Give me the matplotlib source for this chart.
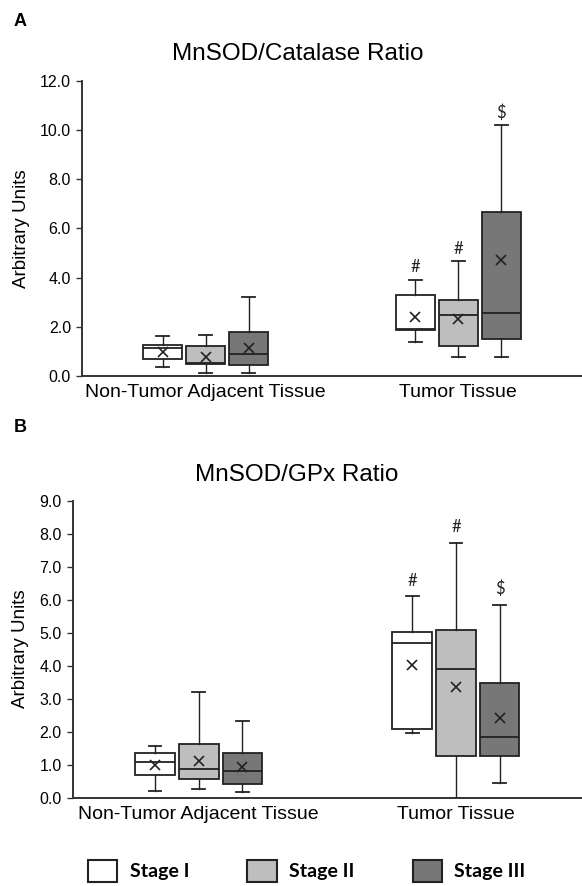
import matplotlib
matplotlib.use("Agg")
import matplotlib.pyplot as plt
from matplotlib.patches import Patch

plt.rcParams['font.family'] = ['Liberation Sans', 'DejaVu Sans']

groups = ['Non-Tumor Adjacent Tissue', 'Tumor Tissue']
stages = ['Stage I', 'Stage II', 'Stage III']
stage_colors = ['#ffffff', '#bebebe', '#777777']

# panel A - MnSOD/Catalase, rows = group, cols = stage
cat_whislo = [[0.37, 0.12, 0.12], [1.38, 0.78, 0.78]]
cat_q1 = [[0.68, 0.49, 0.45], [1.87, 1.22, 1.50]]
cat_med = [[1.13, 0.53, 0.91], [1.92, 2.48, 2.55]]
cat_q3 = [[1.26, 1.23, 1.80], [3.29, 3.08, 6.65]]
cat_whishi = [[1.63, 1.65, 3.22], [3.92, 4.66, 10.2]]
cat_mean = [[0.98, 0.76, 1.15], [2.39, 2.32, 4.70]]
cat_marks = [['', '', ''], ['#', '#', '$']]
cat_mark_y = [[0, 0, 0], [4.44, 5.16, 10.70]]

# panel B - MnSOD/GPx
gpx_whislo = [[0.20, 0.25, 0.17], [1.96, 0.0, 0.44]]
gpx_q1 = [[0.69, 0.56, 0.40], [2.07, 1.27, 1.25]]
gpx_med = [[1.07, 0.87, 0.82], [4.70, 3.91, 1.84]]
gpx_q3 = [[1.35, 1.63, 1.36], [5.01, 5.08, 3.47]]
gpx_whishi = [[1.58, 3.19, 2.32], [6.11, 7.73, 5.84]]
gpx_mean = [[1.00, 1.12, 0.92], [4.02, 3.35, 2.41]]
gpx_marks = [['', '', ''], ['#', '#', '$']]
gpx_mark_y = [[0, 0, 0], [6.57, 8.19, 6.32]]

offsets = [-0.17, 0.0, 0.17]
edge = '#222222'


def draw_panel(ax, whislo, q1, med, q3, whishi, mean, marks, mark_y, ymax, ystep):
    for gi in range(len(groups)):
        for si in range(len(stages)):
            st = dict(whislo=whislo[gi][si], q1=q1[gi][si], med=med[gi][si],
                      q3=q3[gi][si], whishi=whishi[gi][si], mean=mean[gi][si],
                      fliers=[])
            pos = gi + offsets[si]
            ax.bxp([st], positions=[pos], widths=0.154, capwidths=0.05,
                   patch_artist=True, showmeans=True, showfliers=False,
                   boxprops=dict(facecolor=stage_colors[si], edgecolor=edge, linewidth=1.3),
                   medianprops=dict(color=edge, linewidth=1.3),
                   whiskerprops=dict(color=edge, linewidth=1.0),
                   capprops=dict(color=edge, linewidth=1.3),
                   meanprops=dict(marker='x', markeredgecolor=edge, markersize=7,
                                  markeredgewidth=1.2))
            if marks[gi][si]:
                ax.text(pos, mark_y[gi][si], marks[gi][si], ha='center', va='center',
                        fontsize=12, color=edge, family=['Lato', 'DejaVu Sans'])
    ax.set_xlim(-0.49, 1.49)
    ax.set_ylim(0, ymax)
    ticks = [i * ystep for i in range(int(round(ymax / ystep)) + 1)]
    ax.set_yticks(ticks)
    ax.set_yticklabels(['%.1f' % t for t in ticks], fontsize=11.5)
    ax.set_xticks([0, 1])
    ax.set_xticklabels(groups, fontsize=14)
    ax.tick_params(axis='x', length=0, pad=6)
    ax.tick_params(axis='y', length=4, width=1.0, color='#333333', pad=4)
    for s in ['top', 'right']:
        ax.spines[s].set_visible(False)
    for s in ['left', 'bottom']:
        ax.spines[s].set_color('#333333')
        ax.spines[s].set_linewidth(1.4)
    ax.set_ylabel('Arbitrary Units', fontsize=13.5, labelpad=7)


fig = plt.figure(figsize=(5.82, 8.86), dpi=100)

axA = fig.add_axes([0.1409, 0.5756, 0.8591, 0.3333])
draw_panel(axA, cat_whislo, cat_q1, cat_med, cat_q3, cat_whishi, cat_mean,
           cat_marks, cat_mark_y, 12.0, 2.0)

axB = fig.add_axes([0.1249, 0.0997, 0.8751, 0.3352])
draw_panel(axB, gpx_whislo, gpx_q1, gpx_med, gpx_q3, gpx_whishi, gpx_mean,
           gpx_marks, gpx_mark_y, 9.0, 1.0)

fig.text(298 / 582, 1 - 60 / 886, 'MnSOD/Catalase Ratio', ha='center', va='baseline', fontsize=17.5)
fig.text(297 / 582, 1 - 481.5 / 886, 'MnSOD/GPx Ratio', ha='center', va='baseline', fontsize=17.5)
fig.text(20.5 / 582, 1 - 21.5 / 886, 'A', ha='center', va='center', fontsize=13, fontweight='bold')
fig.text(20.5 / 582, 1 - 428 / 886, 'B', ha='center', va='center', fontsize=13, fontweight='bold')

handles = [Patch(facecolor=c, edgecolor=edge, linewidth=1.5) for c in stage_colors]
fig.legend(handles, stages, ncol=3, loc='center left', bbox_to_anchor=(88 / 582, 1 - 871 / 886),
           frameon=False, borderpad=0, borderaxespad=0, handlelength=1.5, handleheight=1.44,
           handletextpad=0.64, columnspacing=3.0,
           prop=dict(family=['Lato', 'DejaVu Sans'], weight='bold', size=14))

fig.savefig('out.png', dpi=100)
